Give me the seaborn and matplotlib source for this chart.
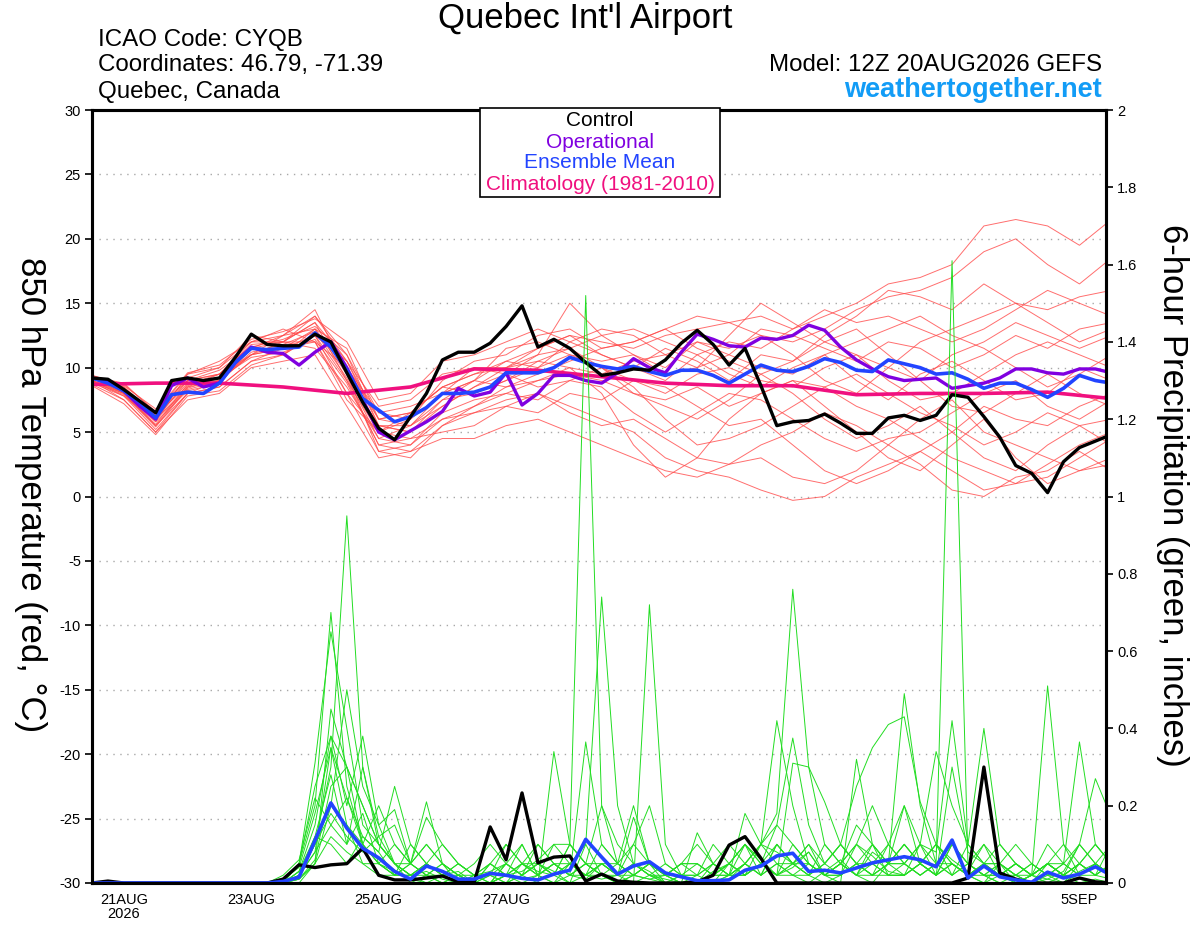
import matplotlib
matplotlib.use("Agg")
import matplotlib.pyplot as plt
from matplotlib.patches import Rectangle
import numpy as np
import pandas as pd
import seaborn as sns

# ---- data ----
run_start = "2026-08-20 12:00"

ctrl_temp = [9.2, 9.1, 8.3, 7.4, 6.5, 9.0, 9.2, 9.0, 9.2, 10.8, 12.6, 11.8, 11.7,
             11.7, 12.6, 12.0, 9.6, 7.3, 5.3, 4.4, 6.2, 8.0, 10.6, 11.2, 11.2,
             11.9, 13.2, 14.8, 11.6, 12.2, 11.5, 10.4, 9.4, 9.6, 9.9, 9.8, 10.6,
             11.9, 12.9, 11.8, 10.2, 11.5, 8.6, 5.5, 5.8, 5.9, 6.4, 5.7, 4.9,
             4.9, 6.1, 6.3, 5.9, 6.3, 7.9, 7.7, 6.2, 4.6, 2.4, 1.8, 0.3, 2.7,
             3.8, 4.3, 4.8]

oper_temp = [9.2, 8.9, 8.2, 7.0, 6.0, 8.6, 9.2, 8.5, 8.8, 10.4, 11.6, 11.2, 11.1,
             10.2, 11.2, 12.0, 10.0, 7.5, 5.0, 4.4, 5.1, 5.8, 6.6, 8.4, 7.8,
             8.1, 9.6, 7.1, 8.0, 9.4, 9.4, 9.0, 8.8, 9.6, 10.7, 10.0, 9.6,
             11.2, 12.6, 12.2, 11.7, 11.6, 12.3, 12.2, 12.5, 13.3, 12.9, 11.6,
             10.6, 9.9, 9.3, 9.0, 9.1, 9.2, 8.4, 8.6, 8.8, 9.2, 9.9, 9.9, 9.6,
             9.5, 9.9, 9.9, 9.6]

mean_temp = [9.2, 8.8, 8.2, 7.3, 6.1, 7.9, 8.1, 8.0, 8.8, 10.4, 11.5, 11.4, 11.5,
             11.6, 12.7, 11.6, 9.8, 7.6, 6.7, 5.8, 6.2, 6.9, 8.0, 8.0, 8.1,
             8.5, 9.6, 9.6, 9.6, 10.0, 10.8, 10.4, 10.1, 9.9, 10.1, 9.7, 9.4,
             9.8, 9.8, 9.4, 8.8, 9.5, 10.2, 9.8, 9.7, 10.1, 10.7, 10.4, 9.8,
             9.7, 10.6, 10.3, 10.0, 9.5, 9.6, 9.1, 8.4, 8.8, 8.8, 8.3, 7.7,
             8.4, 9.4, 9.0, 8.8]

# daily climatology (12Z each day)
clim_temp = [8.7, 8.8, 8.8, 8.5, 8.0, 8.5, 9.9, 9.8, 9.3, 8.8, 8.6, 8.6, 7.9,
             8.0, 8.0, 8.1, 7.6]

ctrl_precip = [0, 0.005, 0, 0, 0, 0, 0, 0, 0, 0, 0, 0, 0.01,
               0.047, 0.04, 0.047, 0.05, 0.09, 0.02, 0.008, 0.008, 0.013, 0.018,
               0.003, 0.003, 0.145, 0.06, 0.233, 0.052, 0.067, 0.07, 0.005,
               0.023, 0.005, 0.002, 0, 0, 0, 0.003, 0.02, 0.098, 0.12, 0.064, 0,
               0, 0, 0, 0, 0, 0, 0, 0, 0, 0, 0, 0.013, 0.30, 0.026, 0.01, 0, 0,
               0, 0.013, 0.003, 0]

mean_precip = [0, 0, 0, 0, 0, 0, 0, 0, 0, 0, 0, 0, 0.004,
               0.015, 0.11, 0.207, 0.142, 0.09, 0.065, 0.03, 0.01, 0.044, 0.03,
               0.01, 0.01, 0.025, 0.02, 0.012, 0.008, 0.023, 0.033, 0.113, 0.067,
               0.023, 0.044, 0.055, 0.026, 0.016, 0.006, 0.006, 0.008, 0.033,
               0.044, 0.07, 0.077, 0.03, 0.033, 0.026, 0.039, 0.052, 0.06, 0.068,
               0.06, 0.042, 0.111, 0.013, 0.044, 0.016, 0.008, 0.002, 0.028,
               0.013, 0.023, 0.042, 0.02]

# ensemble members, 850 hPa temperature, 12-hourly
ens_temp = [
    [9.2, 8.5, 6.0, 9.0, 9.5, 11.5, 12.0, 13.5, 10.5,
     6.0, 6.5, 8.5, 9.5, 10.5, 11.5, 12.5, 12.0,
     11.5, 12.5, 13.0, 13.5, 14.0, 13.0, 14.0, 15.0,
     16.5, 17.0, 18.0, 21.0, 21.5, 21.0, 19.5, 21.5],
    [9.0, 8.0, 5.5, 8.5, 9.0, 11.0, 12.5, 14.0, 11.0,
     5.5, 5.0, 7.0, 8.5, 10.0, 11.0, 15.0, 12.5,
     11.0, 10.0, 12.0, 11.5, 12.5, 12.0, 13.0, 14.5,
     15.5, 16.0, 17.0, 19.0, 20.0, 18.0, 16.5, 18.5],
    [9.0, 7.5, 5.0, 8.0, 8.5, 10.5, 11.0, 12.5, 9.0,
     4.0, 3.5, 5.5, 6.5, 7.5, 8.0, 7.0, 6.0,
     5.0, 3.0, 2.0, 1.5, 0.5, -0.3, 0.0, 1.5,
     2.5, 3.5, 2.0, 0.5, 1.0, 2.5, 4.0, 5.0],
    [9.3, 8.2, 6.5, 9.5, 10.0, 12.0, 12.5, 14.5, 9.5,
     3.5, 4.0, 6.0, 7.0, 8.5, 9.0, 10.0, 8.0,
     4.0, 1.5, 3.0, 6.0, 8.0, 9.0, 7.0, 5.0,
     3.0, 2.0, 4.0, 6.0, 3.0, 1.0, 2.0, 3.0],
    [8.8, 7.8, 5.8, 9.5, 10.5, 12.0, 13.0, 12.0, 7.5,
     5.0, 6.0, 9.0, 10.5, 11.0, 12.5, 13.0, 11.5,
     12.0, 13.0, 14.0, 13.5, 12.5, 11.0, 9.0, 8.0,
     10.0, 12.0, 13.0, 14.0, 15.0, 14.5, 15.5, 16.0],
    [9.1, 8.4, 6.2, 8.8, 9.0, 11.5, 11.0, 13.0, 10.0,
     6.5, 7.0, 8.0, 9.0, 10.5, 10.0, 11.0, 10.5,
     11.0, 9.5, 10.0, 11.0, 13.0, 12.5, 11.5, 10.5,
     12.0, 11.5, 10.0, 11.0, 12.5, 11.5, 13.0, 13.5],
    [9.4, 8.6, 6.8, 9.0, 9.5, 11.0, 11.5, 12.5, 10.5,
     7.0, 7.5, 9.5, 10.0, 9.5, 11.0, 11.5, 10.0,
     9.0, 8.0, 9.5, 10.0, 9.0, 8.5, 10.0, 11.0,
     9.0, 7.5, 8.0, 9.5, 11.0, 12.0, 11.0, 10.0],
    [8.9, 8.0, 5.5, 8.0, 8.5, 10.5, 11.5, 13.0, 11.5,
     6.0, 5.5, 7.5, 8.0, 9.0, 10.0, 12.0, 11.0,
     10.0, 11.5, 10.5, 9.0, 11.0, 10.5, 12.0, 13.0,
     11.0, 9.0, 7.0, 6.5, 8.0, 9.5, 8.0, 7.0],
    [9.2, 8.3, 6.0, 8.5, 9.5, 12.0, 12.0, 11.5, 8.5,
     4.5, 4.0, 6.5, 7.5, 8.0, 9.0, 9.5, 9.0,
     8.0, 7.0, 6.0, 7.5, 9.5, 8.0, 6.0, 4.5,
     5.5, 7.0, 5.0, 3.0, 2.0, 4.0, 5.5, 4.0],
    [9.0, 7.8, 5.2, 8.0, 9.0, 11.0, 12.0, 13.5, 9.0,
     5.0, 4.5, 5.0, 5.5, 7.0, 6.5, 8.0, 7.5,
     9.0, 8.5, 7.0, 5.5, 6.0, 4.0, 2.0, 1.0,
     2.0, 3.5, 5.0, 7.0, 6.0, 5.5, 7.0, 8.0],
    [9.3, 8.8, 6.5, 9.2, 10.0, 12.5, 12.0, 12.0, 8.0,
     5.0, 6.5, 8.5, 9.5, 10.0, 10.5, 11.5, 12.5,
     13.0, 12.0, 11.0, 12.0, 11.5, 13.0, 14.5, 13.5,
     14.0, 13.0, 12.0, 13.0, 14.5, 16.0, 15.0, 14.0],
    [8.7, 7.5, 5.0, 7.5, 8.0, 10.0, 10.5, 11.0, 7.0,
     3.0, 3.5, 4.5, 4.5, 5.5, 6.0, 5.0, 4.0,
     3.0, 2.0, 1.5, 2.5, 3.0, 1.5, 1.0, 2.0,
     4.0, 6.0, 7.5, 5.0, 4.0, 3.0, 2.0, 2.5],
    [9.0, 8.1, 6.3, 8.6, 9.2, 11.0, 11.5, 12.0, 10.0,
     6.0, 6.5, 8.5, 8.0, 9.0, 10.5, 10.0, 9.5,
     10.5, 11.0, 12.0, 11.0, 10.0, 9.5, 11.0, 12.0,
     13.0, 14.0, 12.5, 11.5, 10.0, 8.5, 9.5, 11.0],
    [9.1, 8.4, 5.8, 8.2, 8.8, 11.5, 12.5, 13.0, 9.5,
     5.5, 5.0, 7.5, 9.0, 11.5, 12.0, 11.0, 10.0,
     8.5, 6.0, 4.0, 4.5, 5.5, 7.0, 8.5, 9.5,
     8.0, 6.5, 5.5, 4.0, 5.0, 6.5, 5.5, 6.0],
    [9.4, 8.7, 6.6, 9.6, 10.2, 12.2, 12.8, 13.8, 12.0,
     7.5, 8.0, 10.5, 11.0, 12.0, 13.0, 12.0, 13.0,
     12.5, 11.0, 10.0, 12.5, 15.0, 13.5, 12.0, 11.0,
     10.0, 9.0, 11.0, 12.0, 13.5, 12.5, 11.5, 12.5],
    [8.6, 7.2, 4.8, 7.8, 8.2, 10.2, 11.0, 12.5, 8.0,
     3.5, 3.0, 5.5, 7.0, 8.0, 7.5, 9.0, 8.5,
     6.5, 5.0, 6.5, 8.0, 7.5, 6.0, 4.5, 3.5,
     4.5, 5.0, 6.5, 8.0, 9.0, 7.0, 6.0, 7.5],
    [9.2, 8.0, 5.6, 8.7, 9.5, 11.8, 12.0, 14.0, 10.5,
     5.5, 5.5, 8.0, 9.0, 8.5, 9.5, 10.5, 11.5,
     12.0, 13.0, 11.5, 10.5, 9.5, 10.5, 12.5, 14.0,
     16.0, 15.5, 14.5, 16.5, 15.0, 13.5, 12.0, 13.0],
    [9.0, 8.2, 6.0, 8.3, 9.0, 11.2, 11.8, 12.8, 9.2,
     4.5, 5.5, 7.0, 8.5, 9.5, 8.5, 9.0, 10.0,
     8.0, 7.5, 8.5, 7.0, 8.0, 9.0, 8.5, 7.0,
     6.0, 4.5, 3.0, 2.0, 1.0, 1.5, 3.0, 4.5],
    [9.3, 8.5, 6.4, 9.0, 9.8, 11.6, 12.2, 13.2, 11.0,
     6.5, 6.0, 8.0, 10.0, 10.0, 11.5, 12.5, 11.0,
     10.0, 9.0, 11.0, 9.5, 8.5, 10.0, 11.0, 9.0,
     7.5, 9.5, 10.5, 9.0, 7.5, 8.0, 10.0, 9.0],
    [8.9, 7.9, 5.4, 8.4, 9.2, 10.8, 11.2, 12.2, 8.8,
     4.0, 4.5, 6.0, 6.5, 7.0, 8.0, 6.5, 5.5,
     6.0, 4.5, 3.0, 2.5, 4.0, 5.0, 6.5, 5.5,
     4.0, 2.5, 0.5, 0.0, 1.5, 2.0, 3.5, 2.0],
]

# ensemble members, 6-hour precipitation (inches); first 3 days are dry
ens_precip = [
    [0] * 12 + [0, .02, .10, .30, .95, .30, .10, .05, 0, .02, 0, 0, 0,
                0, 0, .02, .05, .03, 0, .10, .02, 0, 0, .72, .10, .02,
                0, 0, .01, .05, .10, .05, .02, 0, .03, .06, .02, 0, .05,
                .10, .05, .02, .30, .08, .05, .05, 0, .02, .01, 0, .03, .05, .02],
    [0] * 12 + [.01, .05, .20, .70, .25, .10, .05, .03, .01, 0, .02, .03, 0,
                .05, .02, .03, .06, .10, .10, 1.52, .20, .05, .02, .01, 0, 0,
                0, .03, .05, .10, .06, .02, .04, .08, .02, .05, .10, .07, .03,
                .02, .05, .10, .06, .03, .10, .05, .02, 0, .01, .03, .10, .05, .02],
    [0] * 12 + [0, .05, .31, .65, .40, .15, .10, .05, .02, .03, .01, 0, 0,
                0, .02, .10, .02, 0, .05, .10, .74, .20, .05, .03, 0, 0,
                0, 0, .02, .05, .10, .18, .76, .30, .10, .05, .02, .08, .05,
                .20, .10, .08, .42, .10, .05, .02, .02, 0, .05, .02, .01, 0, 0],
    [0] * 12 + [0, .03, .15, .38, .20, .38, .15, .05, .02, 0, 0, .02, 0,
                0, .05, .02, 0, .34, .10, .05, .02, 0, .05, .02, 0, 0,
                .13, .05, .02, .18, .10, .42, .20, .05, .02, 0, .32, .10, .05,
                .49, .20, .05, 1.61, .05, .02, 0, 0, .02, .05, .02, 0, .01, 0],
    [0] * 12 + [0, .02, .08, .35, .22, .12, .08, .25, .10, .05, .02, 0, 0,
                .02, 0, .05, .10, .05, .02, .365, .10, .05, .20, .05, .02, 0,
                0, .02, .05, .02, .10, .15, .375, .15, .05, .10, .25, .35, .41,
                .43, .21, .10, .05, .02, 0, .05, .10, .05, .02, 0, .05, .10, .05],
    [0] * 12 + [0, .01, .05, .45, .30, .20, .10, .05, .05, .21, .05, .02, .05,
                .10, .05, .02, .05, .02, .10, .05, .02, .02, .10, .20, .05, .02,
                0, .02, .05, .10, .05, .02, .31, .30, .21, .10, .05, .10, .05,
                .05, .10, .34, .20, .10, .40, .10, .05, .02, .51, .10, .02, .05, .02],
    [0] * 12 + [0, 0, .05, .20, .50, .25, .15, .19, .05, .10, .05, .02, 0,
                0, .05, .10, .02, 0, .02, .05, .02, 0, .02, .05, .02, .02,
                .02, .05, .02, .05, .10, .08, .05, .02, .05, .10, .05, .02, .05,
                .10, .05, .02, .05, .02, .05, .10, .05, .02, .10, .05, .365, .10, .05],
    [0] * 12 + [.01, .04, .18, .35, .15, .10, .20, .10, .05, .17, .10, .05, .02,
                .05, .10, .05, .02, .05, .02, .05, .20, .10, .05, .02, .02, .05,
                .05, .02, .02, .10, .05, .15, .10, .05, .02, .05, .10, .20, .10,
                .05, .02, .05, .10, .05, .02, .05, .02, 0, .02, .05, .10, .27, .17],
    [0] * 12 + [0, .05, .25, .38, .30, .10, .05, .02, .05, .10, .05, 0, .02,
                0, .02, .05, .03, .02, .05, .02, .05, .02, .17, .05, .02, 0,
                0, 0, .05, .02, .05, .02, .05, .10, .02, .05, .15, .10, .05,
                .10, .05, .02, .10, .05, .02, .02, 0, .02, .05, .02, .05, .10, .05],
    [0] * 12 + [0, .02, .12, .28, .10, .18, .05, .02, .10, .05, .02, .05, .02,
                .03, .05, .02, .10, .05, .02, .02, .10, .05, .02, .01, .02, .05,
                .10, .05, .02, .02, .05, .10, .05, .08, .02, .02, .05, .05, .10,
                .20, .05, .10, .02, .05, .10, .02, .05, .02, .05, .10, .05, .02, .05],
    [0] * 12 + [0, .01, .06, .25, .30, .20, .10, .05, .02, .05, .10, .05, .02,
                .05, .02, .05, .02, .10, .05, .02, .05, .05, .02, .05, .02, 0,
                0, .05, .10, .05, .02, .10, .05, .10, .05, .02, .05, .02, .10,
                .05, .10, .05, .02, .05, .02, .02, .05, .02, .05, .02, .10, .05, .02],
    [0] * 12 + [.02, .06, .22, .15, .10, .30, .12, .05, .02, .02, .05, .02, 0,
                .02, .10, .05, .05, .02, .05, .02, .02, .05, .10, .05, 0, .02,
                .02, .10, .05, .02, .05, .02, .10, .05, .02, .05, .02, .05, .02,
                .02, .05, .10, .05, .02, .05, .05, .02, .05, .02, .05, .02, .05, .10],
    [0] * 12 + [0, .03, .10, .18, .12, .08, .12, .15, .05, .02, .02, .05, .02,
                .02, 0, .02, .05, .02, .10, .05, .02, 0, .02, .05, .02, .05,
                .05, .02, .05, .10, .02, .05, .02, .02, .05, .10, .05, .02, .05,
                .02, .05, .02, .10, .05, .02, 0, .02, .05, .02, .02, .05, .02, .05],
    [0] * 12 + [0, .02, .08, .15, .22, .10, .05, .10, .05, .02, .05, .02, .02,
                0, .02, .05, .02, .05, .02, .05, .05, .02, .05, .02, .05, .02,
                0, .02, .02, .05, .02, .05, .05, .02, .10, .05, .02, .10, .02,
                .05, .02, .05, .02, .10, .05, .02, .05, .02, .05, .05, .02, .02, .10],
    [0] * 12 + [0, .01, .05, .12, .08, .05, .02, .02, .05, .02, 0, .02, 0,
                0, .02, .01, .02, .05, .02, .01, .05, .02, 0, .02, .01, 0,
                .02, 0, .02, .05, .02, .10, .05, .02, 0, .02, .05, .02, .02,
                .02, .05, .02, .05, .02, 0, .02, .05, .02, 0, .02, .05, .02, .01],
    [0] * 12 + [0, .02, .10, .20, .15, .05, .05, .02, .02, .05, .02, 0, .02,
                .02, .05, .02, .05, .02, 0, .02, .01, .02, .05, .02, 0, .02,
                .05, .02, .05, .02, .05, .02, .05, .05, .02, .02, .10, .05, .02,
                .02, .10, .02, .05, .02, .05, .02, 0, .02, .05, .02, .02, .05, .02],
    [0] * 12 + [0, .03, .12, .10, .05, .12, .08, .02, .02, .05, .02, .02, 0,
                .05, .02, 0, .02, .05, .05, .02, .05, .02, .02, .05, .02, .05,
                .02, .05, .02, .02, .05, .02, .02, .05, .02, .05, .02, .02, .05,
                .05, .02, .05, .05, .02, .02, .05, .02, .02, .05, .02, .05, .02, .05],
]

date_ticks = ["2026-08-21", "2026-08-23", "2026-08-25", "2026-08-27",
              "2026-08-29", "2026-09-01", "2026-09-03", "2026-09-05"]
date_labels = ["21AUG\n2026", "23AUG", "25AUG", "27AUG", "29AUG", "1SEP", "3SEP", "5SEP"]

# ---- build frames ----
t6 = pd.date_range(run_start, periods=len(ctrl_temp), freq="6h")
t12 = pd.date_range(run_start, periods=len(ens_temp[0]), freq="12h")
tday = pd.date_range(run_start, periods=len(clim_temp), freq="D")

temp_df = pd.DataFrame({
    "time": np.tile(t12, len(ens_temp)),
    "member": np.repeat(np.arange(len(ens_temp)), len(t12)),
    "value": np.concatenate(ens_temp),
})
precip_df = pd.DataFrame({
    "time": np.tile(t6, len(ens_precip)),
    "member": np.repeat(np.arange(len(ens_precip)), len(t6)),
    "value": np.concatenate([np.array(m, dtype=float) for m in ens_precip]),
})

# ---- plot ----
sns.set_style("white")
plt.rcParams["font.family"] = ["Liberation Sans", "DejaVu Sans"]
plt.rcParams["text.color"] = "black"
plt.rcParams["xtick.color"] = "black"
plt.rcParams["ytick.color"] = "black"
narrow = ["Liberation Sans Narrow", "Liberation Sans", "DejaVu Sans"]

W, H = 1200, 927
fig = plt.figure(figsize=(W / 100, H / 100), dpi=100)
ax = fig.add_axes([92 / W, 1 - 883 / H, (1106 - 92) / W, (883 - 110) / H])

sns.lineplot(data=temp_df, x="time", y="value", units="member", estimator=None,
             color="#ff4a4a", lw=0.7, alpha=0.8, ax=ax, legend=False)
sns.lineplot(x=tday, y=clim_temp, color="#f0107f", lw=2.6, ax=ax)
sns.lineplot(x=t6, y=oper_temp, color="#8000e0", lw=2.4, ax=ax)
sns.lineplot(x=t6, y=mean_temp, color="#2244ff", lw=2.6, ax=ax)
sns.lineplot(x=t6, y=ctrl_temp, color="black", lw=2.4, ax=ax)

ax2 = ax.twinx()
sns.lineplot(data=precip_df, x="time", y="value", units="member", estimator=None,
             color="#22dd22", lw=0.7, ax=ax2, legend=False)
sns.lineplot(x=t6, y=ctrl_precip, color="black", lw=2.4, ax=ax2)
sns.lineplot(x=t6, y=mean_precip, color="#2244ff", lw=2.6, ax=ax2)

ax.set_xlim(pd.Timestamp(run_start), pd.Timestamp("2026-09-05 10:00"))
ax.set_ylim(-30, 30)
ax2.set_ylim(0, 2)

ax.set_yticks(np.arange(-30, 31, 5))
ax.set_yticklabels([str(v) for v in range(-30, 31, 5)])
rticks = np.round(np.arange(0, 2.01, 0.2), 1)
ax2.set_yticks(rticks)
ax2.set_yticklabels([f"{v:g}" for v in rticks])
ax.set_xticks(pd.to_datetime(date_ticks))
ax.set_xticklabels(date_labels)

for a in (ax, ax2):
    a.set_xlabel("")
    a.set_ylabel("")
    for s in a.spines.values():
        s.set_linewidth(2.2)
        s.set_color("black")

ax.grid(axis="y", linestyle=(0, (1, 4)), color="#a8a8a8", lw=1)
ax.grid(axis="x", visible=False)
ax.tick_params(axis="both", direction="out", length=5, width=1.2, labelsize=10.5,
               pad=3, colors="black")
ax.tick_params(axis="x", pad=2)
ax2.tick_params(axis="y", direction="out", length=5, width=1.2, labelsize=10.5,
                pad=3, colors="black")
for lbl in ax.get_xticklabels() + ax.get_yticklabels() + ax2.get_yticklabels():
    lbl.set_family(narrow)
for lbl in ax.get_xticklabels():
    lbl.set_linespacing(1.05)

# ---- header and labels ----
def fpos(x, y):
    return x / W, 1 - y / H

fig.text(*fpos(585, 28), "Quebec Int'l Airport", ha="center", va="baseline", fontsize=25)
fig.text(*fpos(98, 46), "ICAO Code: CYQB", ha="left", va="baseline", fontsize=17.4)
fig.text(*fpos(98, 71), "Coordinates: 46.79, -71.39", ha="left", va="baseline", fontsize=17.4)
fig.text(*fpos(98, 98), "Quebec, Canada", ha="left", va="baseline", fontsize=17.4)
fig.text(*fpos(1102, 71), "Model: 12Z 20AUG2026 GEFS", ha="right", va="baseline", fontsize=17.4)
fig.text(*fpos(1102, 97), "weathertogether.net", ha="right", va="baseline",
         fontsize=19.5, fontweight="bold", color="#129cf6")

fig.text(*fpos(30, 495), "850 hPa Temperature (red, °C)", rotation=-90,
         ha="center", va="center", fontsize=25)
fig.text(*fpos(1172, 495), "6-hour Precipitation (green, inches)", rotation=-90,
         ha="center", va="center", fontsize=25)

# legend box
box = Rectangle(fpos(480, 197), 240 / W, 89 / H, transform=fig.transFigure,
                facecolor="white", edgecolor="black", lw=1.2, zorder=5)
fig.add_artist(box)
legend_items = [("Control", "black", 121), ("Operational", "#8000e0", 142),
                ("Ensemble Mean", "#2244ff", 163),
                ("Climatology (1981-2010)", "#f0107f", 185)]
for label, col, ypx in legend_items:
    fig.text(*fpos(600, ypx), label, ha="center", va="center", fontsize=15,
             color=col, zorder=6)

fig.savefig("out.png", dpi=100)
